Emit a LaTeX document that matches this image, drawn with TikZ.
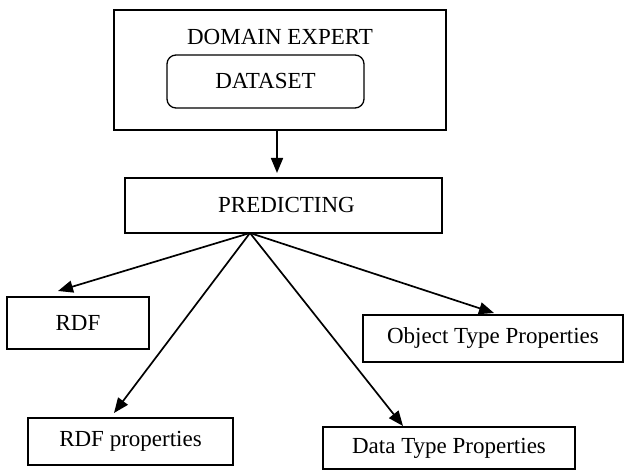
\documentclass[tikz,border=0pt]{standalone}
\usepackage{fontspec}
\setmainfont{Liberation Serif}
\usetikzlibrary{arrows.meta}
\begin{document}
\begin{tikzpicture}[x=1pt,y=-1pt,
  box/.style={draw=black,line width=1.3pt,inner sep=0pt,font=\fontsize{23}{27}\selectfont},
  lbl/.style={inner sep=0pt,font=\fontsize{23}{27}\selectfont},
  arr/.style={line width=1.7pt,-{Triangle[length=15pt,width=12pt]}}]
\useasboundingbox (0,0) rectangle (625,470);
% top container
\node (expert) [box,minimum width=332pt,minimum height=120pt] at (280,70) {};
\node (expertlbl) [lbl] at (280,37) {DOMAIN EXPERT};
\node (dataset) [box,rounded corners=9pt,minimum width=197pt,minimum height=53pt] at (265.5,81.5) {DATASET};
% predicting
\node (pred) [box,minimum width=317pt,minimum height=55pt] at (283.5,205.5) {\hspace*{6pt}PREDICTING};
% leaves
\node (rdf) [box,minimum width=142pt,minimum height=52pt] at (78,323) {RDF};
\node (rdfprop) [box,minimum width=205pt,minimum height=47pt] at (130.5,441.5) {RDF properties};
\node (obj) [box,minimum width=260pt,minimum height=47pt] at (493,338.5) {Object Type Properties};
\node (dtp) [box,minimum width=252pt,minimum height=42pt] at (449,448) {Data Type Properties};
% connector points
\coordinate (downstart) at (277,131);
\coordinate (downend) at (277,173);
\coordinate (apex) at (250,233);
\coordinate (tRDF) at (58,291);
\coordinate (tRDFp) at (114,413);
\coordinate (tObj) at (494,313);
\coordinate (tDtp) at (403,426);
\draw[arr] (downstart) -- (downend);
\draw[arr] (apex) -- (tRDF);
\draw[arr] (apex) -- (tRDFp);
\draw[arr] (apex) -- (tObj);
\draw[arr] (apex) -- (tDtp);
\end{tikzpicture}
\end{document}
